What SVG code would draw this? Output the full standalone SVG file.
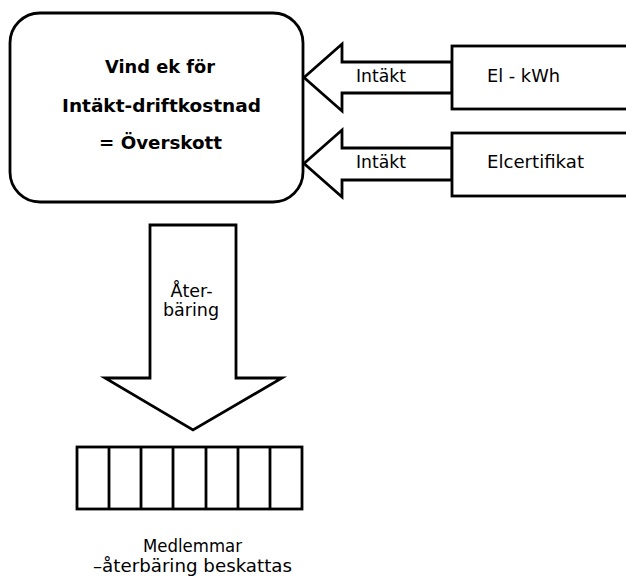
<svg xmlns="http://www.w3.org/2000/svg" width="626" height="576" viewBox="0 0 626 576">
  <style>
    .shape { fill: #ffffff; stroke: #000000; stroke-width: 2.8; stroke-linejoin: miter; }
    .label { font-family: "DejaVu Sans", "Liberation Sans", sans-serif; font-size: 17.5px; fill: #000000; }
    .title { font-family: "DejaVu Sans", "Liberation Sans", sans-serif; font-size: 18px; font-weight: bold; fill: #000000; }
  </style>
  <rect x="0" y="0" width="626" height="576" fill="#ffffff"/>

  <!-- flow arrows -->
  <g id="connectors">
    <polygon class="shape" points="304,77.5 342,44 342,62 452,62 452,93 342,93 342,111"/>
    <text class="label" x="356" y="82" textLength="50" lengthAdjust="spacingAndGlyphs">Intäkt</text>
    <polygon class="shape" points="304,163.5 342,130 342,148 452,148 452,180 342,180 342,197"/>
    <text class="label" x="356" y="168" textLength="50" lengthAdjust="spacingAndGlyphs">Intäkt</text>
    <polygon class="shape" points="150,225 236,225 236,378 282,378 193,430 105,378 150,378"/>
    <text class="label" x="191.5" y="297" text-anchor="middle">Åter-</text>
    <text class="label" x="191" y="316" text-anchor="middle">bäring</text>
  </g>

  <!-- cooperative: result node -->
  <g id="node-result">
    <rect class="shape" x="10" y="13" width="293" height="189" rx="30" ry="30"/>
    <text class="title" x="105" y="73" textLength="110" lengthAdjust="spacingAndGlyphs">Vind ek för</text>
    <text class="title" x="62" y="112" textLength="199" lengthAdjust="spacingAndGlyphs">Intäkt-driftkostnad</text>
    <text class="title" x="99" y="149" textLength="123" lengthAdjust="spacingAndGlyphs">= Överskott</text>
  </g>

  <!-- income: electricity -->
  <g id="node-el">
    <rect class="shape" x="452" y="46" width="190" height="63"/>
    <text class="label" x="487" y="82" textLength="73" lengthAdjust="spacingAndGlyphs">El - kWh</text>
  </g>

  <!-- income: certificates -->
  <g id="node-elcert">
    <rect class="shape" x="452" y="133" width="190" height="63"/>
    <text class="label" x="487" y="168" textLength="97" lengthAdjust="spacingAndGlyphs">Elcertifikat</text>
  </g>

  <!-- members -->
  <g id="node-members">
    <rect class="shape" x="77" y="447" width="225" height="62"/>
    <g stroke="#000000" stroke-width="2.8">
      <line x1="109" y1="447" x2="109" y2="509"/>
      <line x1="141" y1="447" x2="141" y2="509"/>
      <line x1="173" y1="447" x2="173" y2="509"/>
      <line x1="206" y1="447" x2="206" y2="509"/>
      <line x1="238" y1="447" x2="238" y2="509"/>
      <line x1="270" y1="447" x2="270" y2="509"/>
    </g>
    <text class="label" x="143" y="552" textLength="99" lengthAdjust="spacingAndGlyphs">Medlemmar</text>
    <text class="label" x="93" y="572" textLength="199" lengthAdjust="spacingAndGlyphs">–återbäring beskattas</text>
  </g>
</svg>
